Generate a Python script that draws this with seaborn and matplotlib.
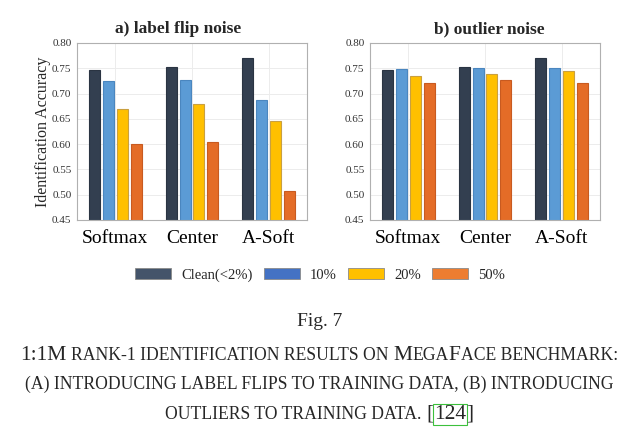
import matplotlib
matplotlib.use("Agg")
import matplotlib.pyplot as plt
import seaborn as sns
import pandas as pd
from matplotlib.patches import Patch

methods = ["Softmax", "Center", "A-Soft"]
noise_levels = ["Clean(<2%)", "10%", "20%", "50%"]
label_flip = {
    "Clean(<2%)": [0.747, 0.752, 0.770],
    "10%": [0.724, 0.726, 0.687],
    "20%": [0.669, 0.680, 0.645],
    "50%": [0.601, 0.605, 0.508],
}
outlier = {
    "Clean(<2%)": [0.747, 0.752, 0.770],
    "10%": [0.748, 0.750, 0.750],
    "20%": [0.734, 0.738, 0.744],
    "50%": [0.720, 0.726, 0.720],
}
yticks = [0.45, 0.50, 0.55, 0.60, 0.65, 0.70, 0.75, 0.80]
bar_colors = ["#333f50", "#5b9bd5", "#ffc000", "#e46c27"]
edge_colors = ["#2a3442", "#4a86bf", "#c9a040", "#c85a20"]
legend_colors = ["#44546a", "#4472c4", "#ffc000", "#ed7d31"]

sns.set_theme(style="whitegrid")
plt.rcParams["font.family"] = ["Liberation Serif", "DejaVu Serif"]

def to_df(d):
    rows = []
    for lvl in noise_levels:
        for m, v in zip(methods, d[lvl]):
            rows.append({"method": m, "noise": lvl, "acc": v})
    return pd.DataFrame(rows)

fig = plt.figure(figsize=(6.24, 4.29), dpi=100)
ax1 = fig.add_axes([77/624, 1-220/429, 230/624, 177/429])
ax2 = fig.add_axes([370/624, 1-220/429, 230/624, 177/429])

for ax, data, title, tx in [(ax1, label_flip, "a) label flip noise", 0.44),
                            (ax2, outlier, "b) outlier noise", 0.52)]:
    df = to_df(data)
    sns.barplot(data=df, x="method", y="acc", hue="noise", hue_order=noise_levels,
                palette=bar_colors, width=0.72, gap=0.2, ax=ax, legend=False,
                linewidth=0.8, saturation=1)
    for i, cont in enumerate(ax.containers):
        for p in cont:
            p.set_edgecolor(edge_colors[i])
    ax.set_ylim(0.45, 0.80)
    ax.set_xlim(-0.5, 2.5)
    ax.set_yticks(yticks)
    ax.set_yticklabels([f"{t:.2f}" for t in yticks], fontsize=8, color="#333333")
    ax.tick_params(axis="y", pad=4, length=0)
    ax.tick_params(axis="x", labelsize=14, pad=7, length=0)
    for lab in ax.get_xticklabels():
        lab.set_color("black")
    ax.set_xlabel("")
    ax.set_ylabel("")
    ax.grid(True, color="#ececec", linewidth=0.7)
    ax.set_axisbelow(True)
    for s in ax.spines.values():
        s.set_color("#b0b0b0")
        s.set_linewidth(0.8)
    ax.set_title(title, fontsize=12.5, fontweight="bold", pad=7, x=tx)

ax1.set_ylabel("Identification Accuracy", fontsize=11.5, labelpad=1)

handles = [Patch(facecolor=c, edgecolor="#8a8a8a", linewidth=0.6) for c in legend_colors]
fig.legend(handles, noise_levels, loc="center", bbox_to_anchor=(320/624, 1-275/429),
           ncol=4, frameon=False, fontsize=10.5, handlelength=2.47, handleheight=0.82,
           columnspacing=0.75, handletextpad=0.7)

fig.text(320/624, 1-322/429, "Fig. 7", ha="center", va="center", fontsize=14)

L, S = 15.5, 12.7
renderer = fig.canvas.get_renderer()

def space_width(size):
    a = fig.text(0, 0, "a a", fontsize=size)
    b = fig.text(0, 0, "aa", fontsize=size)
    w = a.get_window_extent(renderer).width - b.get_window_extent(renderer).width
    a.remove(); b.remove()
    return w

def caption_line(segments, y_px, xc_px=319):
    texts = []
    widths = []
    for txt, size, lead, boxed in segments:
        kw = {}
        if boxed:
            kw["bbox"] = dict(boxstyle="square,pad=0.05", fc="none", ec="#3cc03c", lw=0.8)
        t = fig.text(0, 1 - y_px/429, txt, fontsize=size, ha="left", va="baseline", **kw)
        texts.append(t)
        w = t.get_window_extent(renderer).width
        sp = space_width(size) if lead else 0
        widths.append((sp, w))
    total = sum(a + b for a, b in widths)
    x = xc_px - total / 2
    for t, (sp, w) in zip(texts, widths):
        x += sp
        t.set_x(x / 624)
        x += w

caption_line([("1:1M", L, False, False),
              ("RANK-1 IDENTIFICATION RESULTS ON", S, True, False),
              ("M", L, True, False), ("EGA", S, False, False), ("F", L, False, False),
              ("ACE BENCHMARK:", S, False, False)], 360)
caption_line([("(A) INTRODUCING LABEL FLIPS TO TRAINING DATA, (B) INTRODUCING", S, False, False)], 389)
caption_line([("OUTLIERS TO TRAINING DATA.", S, False, False),
              ("[", L, True, False), ("124", L, False, True), ("]", L, False, False)], 419)

fig.savefig("out.png", dpi=100)
